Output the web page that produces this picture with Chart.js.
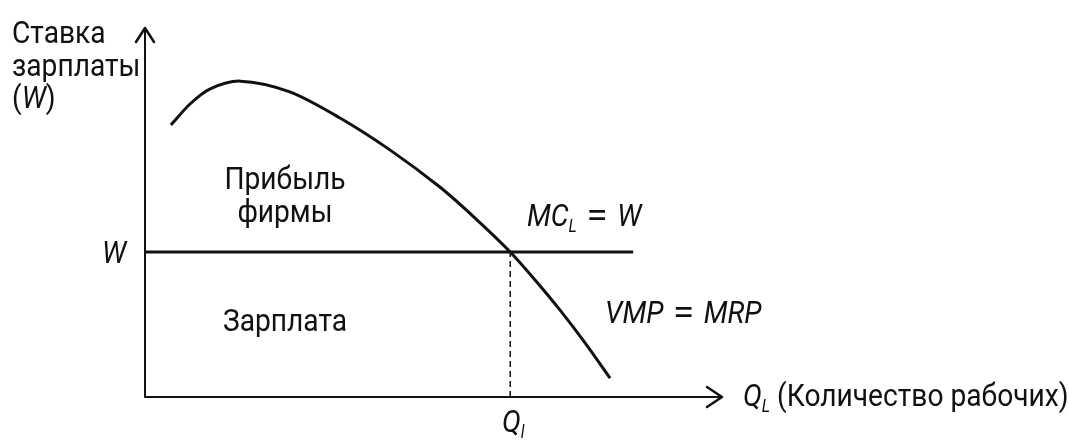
<!DOCTYPE html>
<html>
<head>
<meta charset="utf-8">
<script src="https://cdn.jsdelivr.net/npm/chart.js@4/dist/chart.umd.min.js"></script>
<style>
  html, body { margin: 0; padding: 0; background: #fff; }
  #wrap { width: 1069px; height: 441px; }
</style>
</head>
<body>
<div id="wrap"><canvas id="myChart"></canvas></div>
<script>
// VMP = MRP curve (labour units on x, wage on y)
const curveQ = [4.5, 7.8, 11.3, 16.5, 25.1, 33.8, 42.5, 51.1, 57.2, 63.3, 67.6, 71.9, 76.3, 80.6];
const curveVMP = [73.7, 79.4, 83.5, 85.6, 82.7, 75.6, 66.9, 56.9, 48.5, 39.3, 31.7, 23.6, 14.6, 5.1];

// wage level and the equilibrium quantity
const wage = [39.3];
const qEquil = [63.3];
const wageLineEnd = [84.6];

const FONT = "Roboto, 'Noto Sans', sans-serif";
const SQUEEZE = 0.88;

const vmpPoints = curveQ.map((q, i) => ({ x: q, y: curveVMP[i] }));
const wagePoints = [{ x: 0, y: wage[0] }, { x: wageLineEnd[0], y: wage[0] }];
const dashPoints = [{ x: qEquil[0], y: 0 }, { x: qEquil[0], y: wage[0] }];

// draws runs of text: {t, i (italic), sub (subscript), eq (wide sign)}, squeezed sideways
const drawRuns = (ctx, runs, x, y, size, align) => {
  const fontOf = (r) => (r.i ? 'italic ' : '') +
    (r.sub ? Math.round(size * 0.55) : (r.eq ? Math.round(size * 1.1) : size)) + 'px ' + FONT;
  const sq = (r) => (r.eq ? 1.1 : SQUEEZE);
  let total = 0;
  runs.forEach((r) => { ctx.font = fontOf(r); total += ctx.measureText(r.t).width * sq(r); });
  let cx = align === 'center' ? x - total / 2 : (align === 'right' ? x - total : x);
  ctx.textAlign = 'left';
  ctx.textBaseline = 'alphabetic';
  runs.forEach((r) => {
    ctx.font = fontOf(r);
    ctx.save();
    ctx.translate(cx, r.sub ? y + size * 0.2 : (r.eq ? y + 1 : y));
    ctx.scale(sq(r), 1);
    ctx.fillText(r.t, 0, 0);
    ctx.restore();
    cx += ctx.measureText(r.t).width * sq(r);
  });
};

const axesAndText = {
  id: 'axesAndText',
  afterDatasetsDraw(chart) {
    const { ctx, scales: { x, y } } = chart;
    const x0 = x.getPixelForValue(0), x1 = x.getPixelForValue(100);
    const y0 = y.getPixelForValue(0), y1 = y.getPixelForValue(100);
    ctx.save();
    ctx.strokeStyle = '#111';
    ctx.fillStyle = '#111';
    ctx.lineWidth = 2;
    ctx.lineCap = 'round';
    ctx.lineJoin = 'round';
    // axes
    ctx.beginPath();
    ctx.moveTo(x0, y1); ctx.lineTo(x0, y0); ctx.lineTo(x1, y0);
    ctx.stroke();
    // arrow heads
    ctx.lineWidth = 2.5;
    ctx.beginPath();
    ctx.moveTo(x0 - 9, y1 + 14); ctx.lineTo(x0, y1); ctx.lineTo(x0 + 9, y1 + 14);
    ctx.moveTo(x1 - 15, y0 - 10); ctx.lineTo(x1, y0); ctx.lineTo(x1 - 15, y0 + 10);
    ctx.stroke();

    const s = 32;
    // y axis title
    drawRuns(ctx, [{ t: 'Ставка' }], 12, 43, s, 'left');
    drawRuns(ctx, [{ t: 'зарплаты' }], 12, 76, s, 'left');
    drawRuns(ctx, [{ t: '(' }, { t: 'W', i: true }, { t: ')' }], 12, 108, s, 'left');
    // wage tick
    drawRuns(ctx, [{ t: 'W', i: true }], 114, y.getPixelForValue(wage[0]) + 11, s, 'center');
    // quantity tick
    drawRuns(ctx, [{ t: 'Q', i: true }, { t: 'l', i: true, sub: true }], x.getPixelForValue(qEquil[0]) + 3, 432, s, 'center');
    // x axis title
    drawRuns(ctx, [{ t: 'Q', i: true }, { t: 'L', i: true, sub: true }, { t: ' (Количество рабочих)' }], 743, 406, s, 'left');
    // regions
    drawRuns(ctx, [{ t: 'Прибыль' }], 285, 189, s, 'center');
    drawRuns(ctx, [{ t: 'фирмы' }], 285, 222, s, 'center');
    drawRuns(ctx, [{ t: 'Зарплата' }], 285, 331, s, 'center');
    // curve labels
    drawRuns(ctx, [{ t: 'MC', i: true }, { t: 'L', i: true, sub: true }, { t: ' = ', eq: true }, { t: 'W', i: true }], 527, 226, s, 'left');
    drawRuns(ctx, [{ t: 'VMP', i: true }, { t: ' = ', eq: true }, { t: 'MRP', i: true }], 605, 323, s, 'left');
    ctx.restore();
  }
};

new Chart(document.getElementById('myChart'), {
  type: 'scatter',
  data: {
    datasets: [
      {
        label: 'VMP = MRP',
        data: vmpPoints,
        showLine: true,
        borderColor: '#111',
        borderWidth: 3,
        pointRadius: 0,
        tension: 0.3
      },
      {
        label: 'MC = W',
        data: wagePoints,
        showLine: true,
        borderColor: '#111',
        borderWidth: 3,
        pointRadius: 0
      },
      {
        label: 'Q',
        data: dashPoints,
        showLine: true,
        borderColor: '#111',
        borderWidth: 1.5,
        borderDash: [6, 4],
        pointRadius: 0
      }
    ]
  },
  options: {
    responsive: true,
    maintainAspectRatio: false,
    animation: false,
    layout: { padding: { left: 145, right: 347, top: 28, bottom: 44 } },
    plugins: { legend: { display: false }, tooltip: { enabled: false } },
    scales: {
      x: { type: 'linear', min: 0, max: 100, display: false },
      y: { type: 'linear', min: 0, max: 100, display: false }
    }
  },
  plugins: [axesAndText]
});
</script>
</body>
</html>
